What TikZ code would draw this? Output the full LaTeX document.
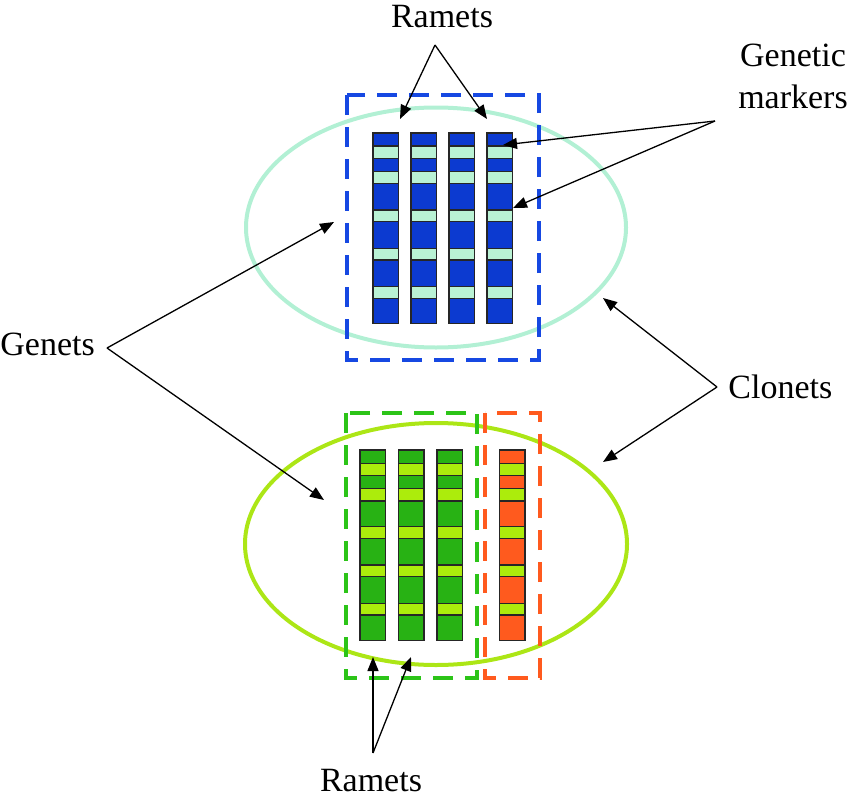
\documentclass[tikz,border=0pt]{standalone}
\usepackage{fontspec}
\setmainfont{Liberation Serif}
\usetikzlibrary{arrows.meta}
\definecolor{rametblue}{RGB}{12,58,208}
\definecolor{markmint}{RGB}{185,242,212}
\definecolor{ringmint}{RGB}{178,240,212}
\definecolor{boxblue}{RGB}{22,72,226}
\definecolor{rametgreen}{RGB}{40,178,20}
\definecolor{marklime}{RGB}{172,236,12}
\definecolor{ringlime}{RGB}{172,230,22}
\definecolor{boxgreen}{RGB}{44,196,24}
\definecolor{rametorange}{RGB}{255,90,30}
\begin{document}
\begin{tikzpicture}[x=1pt, y=-1pt, thick,
  label/.style = {font=\fontsize{34}{42}\selectfont, inner sep=0pt},
  pointer/.style = {line width=1.3pt, -{Triangle[length=14pt,width=11pt]}},
  ring/.style = {line width=4pt},
  clonebox/.style = {line width=3.5pt, dash pattern=on 20pt off 12pt},
  band/.style = {draw=black!85, line width=1.1pt}]
\useasboundingbox (0,0) rectangle (850,800);

% ellipses
\draw[ring, ringmint] (436,227.5) ellipse [x radius=190, y radius=120];
\draw[ring, ringlime] (436,544) ellipse [x radius=191, y radius=121];

% dashed boxes
\draw[clonebox, boxblue] (347,95) rectangle (539,360);
\draw[clonebox, boxgreen] (346,413) rectangle (477,678);
\draw[clonebox, rametorange] (485,413) rectangle (540,678);

% upper ramets
\foreach \x in {373,411,449,487} {
  \draw[band, fill=rametblue] (\x,133) rectangle ++(25.5,190.5);
  \foreach \y/\h in {146/12.3, 171.7/11.6, 210/11.7, 248.3/11.7, 286.7/11.6}
    \draw[band, fill=markmint] (\x,\y) rectangle ++(25.5,\h);
}

% lower ramets
\foreach \x/\c in {360/rametgreen, 398.5/rametgreen, 437/rametgreen, 499.5/rametorange} {
  \draw[band, fill=\c] (\x,450) rectangle ++(25.5,190.7);
  \foreach \y/\h in {463.3/12.4, 488.3/12.7, 526.7/11.6, 565/11.7, 603.3/11.7}
    \draw[band, fill=marklime] (\x,\y) rectangle ++(25.5,\h);
}

% labels
\node[label, anchor=base] (ramtop) at (442,28) {Ramets};
\node[label, anchor=base, align=center] (genmark) at (793,108) {Genetic\\markers};
\node[label, anchor=base west] (genets) at (0,355) {Genets};
\node[label, anchor=base west] (clonets) at (728,398) {Clonets};
\node[label, anchor=base] (rambot) at (371,791) {Ramets};

% arrow ends
\coordinate (ramtopfork) at (435,45);
\coordinate (ramtop1) at (400,119);
\coordinate (ramtop2) at (487,119);
\coordinate (genmarkfork) at (715,121);
\coordinate (genmark1) at (503,145);
\coordinate (genmark2) at (513,208);
\coordinate (genetsfork) at (107,348);
\coordinate (genets1) at (334,222);
\coordinate (genets2) at (324,500);
\coordinate (clonetsfork) at (717,387);
\coordinate (clonets1) at (603,298);
\coordinate (clonets2) at (603,462);
\coordinate (rambotfork) at (373,753);
\coordinate (rambot1) at (373,657);
\coordinate (rambot2) at (411,657);

\draw[pointer] (ramtopfork) -- (ramtop1);
\draw[pointer] (ramtopfork) -- (ramtop2);
\draw[pointer] (genmarkfork) -- (genmark1);
\draw[pointer] (genmarkfork) -- (genmark2);
\draw[pointer] (genetsfork) -- (genets1);
\draw[pointer] (genetsfork) -- (genets2);
\draw[pointer] (clonetsfork) -- (clonets1);
\draw[pointer] (clonetsfork) -- (clonets2);
\draw[pointer] (rambotfork) -- (rambot1);
\draw[pointer] (rambotfork) -- (rambot2);
\end{tikzpicture}
\end{document}
